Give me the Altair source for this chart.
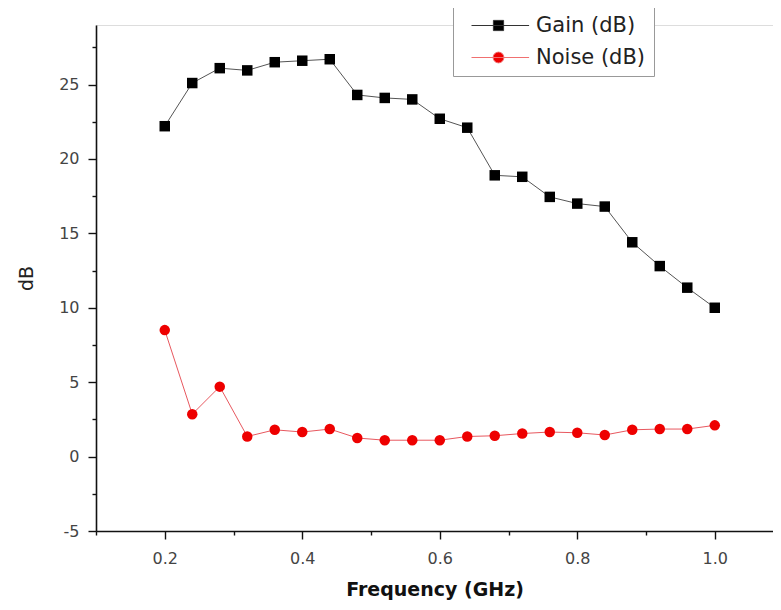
import altair as alt
import pandas as pd

freq = [0.20, 0.24, 0.28, 0.32, 0.36, 0.40, 0.44, 0.48, 0.52, 0.56, 0.60,
        0.64, 0.68, 0.72, 0.76, 0.80, 0.84, 0.88, 0.92, 0.96, 1.00]
gain = [22.2, 25.1, 26.1, 25.95, 26.5, 26.6, 26.7, 24.3, 24.1, 24.0, 22.7,
        22.1, 18.9, 18.8, 17.45, 17.0, 16.8, 14.4, 12.8, 11.35, 10.0]
noise = [8.5, 2.85, 4.7, 1.35, 1.8, 1.65, 1.85, 1.25, 1.1, 1.1, 1.1,
         1.35, 1.4, 1.55, 1.65, 1.6, 1.45, 1.8, 1.85, 1.85, 2.1]
series_names = ["Gain (dB)", "Noise (dB)"]
x_ticks = [0.1, 0.2, 0.3, 0.4, 0.5, 0.6, 0.7, 0.8, 0.9, 1.0]
y_ticks = [-5, -2.5, 0, 2.5, 5, 7.5, 10, 12.5, 15, 17.5, 20, 22.5, 25, 27.5]

df = pd.DataFrame({"freq": freq, "gain": gain, "noise": noise})
long_df = pd.concat([
    pd.DataFrame({"freq": freq, "value": gain, "series": series_names[0]}),
    pd.DataFrame({"freq": freq, "value": noise, "series": series_names[1]}),
])

FONT = "DejaVu Sans"

x_axis = alt.Axis(
    values=x_ticks,
    labelExpr="round(datum.value*10) % 2 == 0 ? format(datum.value, '.1f') : ''",
    tickSize={"condition": {"test": "round(datum.value*10) % 2 == 1", "value": 4}, "value": 8},
    domainColor="#111", domainWidth=1.6, tickColor="#111", tickWidth=1.4,
    labelFont=FONT, labelFontSize=16, labelColor="#444", labelPadding=11,
    labelFlush=False, labelOverlap=False, grid=False,
    title="Frequency (GHz)", titleFont=FONT, titleFontSize=19, titleFontWeight="bold",
    titleColor="#111", titlePadding=14,
)
y_axis = alt.Axis(
    values=y_ticks,
    labelExpr="abs(round(datum.value/2.5)) % 2 == 0 ? '' + datum.value : ''",
    tickSize={"condition": {"test": "abs(round(datum.value/2.5)) % 2 == 1", "value": 4}, "value": 8},
    domainColor="#111", domainWidth=1.6, tickColor="#111", tickWidth=1.4,
    labelFont=FONT, labelFontSize=16, labelColor="#444", labelPadding=9,
    labelFlush=False, labelOverlap=False, grid=False,
    title="dB", titleFont=FONT, titleFontSize=19, titleFontWeight="normal",
    titleColor="#222", titlePadding=22,
)

xsc = alt.Scale(domain=[0.1, 1.0847], nice=False, zero=False)
ysc = alt.Scale(domain=[-5, 29], nice=False, zero=False)
X = alt.X("freq:Q", scale=xsc, axis=x_axis)

base = alt.Chart(df)

gain_line = base.mark_line(color="#555", strokeWidth=1).encode(
    x=X, y=alt.Y("gain:Q", scale=ysc, axis=y_axis))
gain_pts = base.mark_point(shape="square", filled=True, color="black", size=110, opacity=1).encode(
    x=X, y=alt.Y("gain:Q", scale=ysc, axis=y_axis))
noise_line = base.mark_line(color="#e8585f", strokeWidth=1).encode(
    x=X, y=alt.Y("noise:Q", scale=ysc, axis=y_axis))
noise_pts = base.mark_point(shape="circle", filled=True, color="#ee0000", size=110, opacity=1).encode(
    x=X, y=alt.Y("noise:Q", scale=ysc, axis=y_axis))

legend = alt.Legend(
    orient="none", legendX=357, legendY=-18, title=None, direction="vertical",
    labelFont=FONT, labelFontSize=21, labelColor="#222", labelOffset=54,
    symbolSize=144, symbolStrokeWidth=1,
    strokeColor="#999", fillColor="white", padding=8, rowPadding=10,
)
# symbol paths drawn to the right of the nominal symbol centre (unit = 6 px)
path_square = "M0.0,0H9.6M3.65,-0.85H5.35V0.85H3.65Z"
path_circle = "M0.0,0H9.6M5.4,0A0.9,0.9 0 1,1 3.6,0A0.9,0.9 0 1,1 5.4,0Z"

legend_layer = alt.Chart(long_df).transform_filter("false").mark_point(
    filled=True, strokeWidth=1, opacity=1).encode(
    x=X,
    y=alt.Y("value:Q", scale=ysc, axis=y_axis),
    color=alt.Color("series:N", scale=alt.Scale(domain=series_names, range=["black", "#ee0000"]), legend=legend),
    stroke=alt.Stroke("series:N", scale=alt.Scale(domain=series_names, range=["#333", "#f07070"]), legend=legend),
    shape=alt.Shape("series:N", scale=alt.Scale(domain=series_names, range=[path_square, path_circle]), legend=legend),
)

chart = alt.layer(gain_line, noise_line, gain_pts, noise_pts, legend_layer).properties(
    width=677, height=506,
    padding={"left": 88, "top": 17, "right": 0, "bottom": 71},
    autosize=alt.AutoSizeParams(type="none"),
).configure_view(stroke=None).configure(background="white")

chart.save("out.html", embed_options={"renderer": "svg", "actions": False})
